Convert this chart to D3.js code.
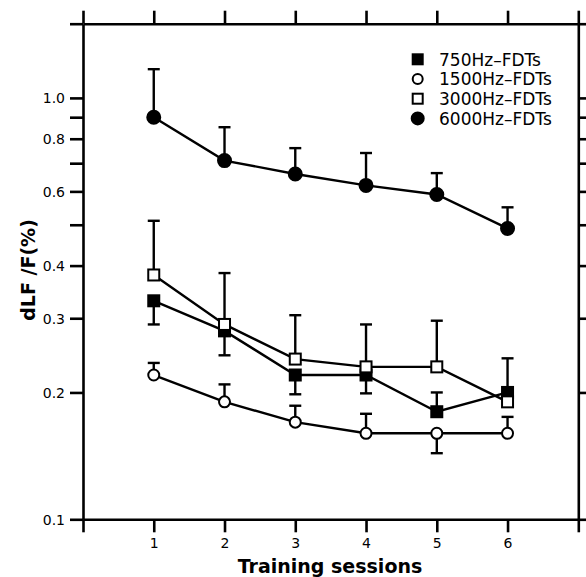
<!DOCTYPE html>
<html>
<head>
<meta charset="utf-8">
<script src="https://cdn.jsdelivr.net/npm/d3@7"></script>
<style>
  body { margin: 0; background: #fff; }
  text { font-family: "DejaVu Sans", sans-serif; fill: #000; }
</style>
</head>
<body>
<svg width="586" height="577"></svg>
<script>
// sessions on the x axis
var sessions = [1, 2, 3, 4, 5, 6];
var seriesNames = ["750Hz\u2013FDTs", "1500Hz\u2013FDTs", "3000Hz\u2013FDTs", "6000Hz\u2013FDTs"];

// mean dLF/F (%) per session
var f750  = [0.33, 0.28, 0.22, 0.22, 0.18, 0.20];
var f1500 = [0.22, 0.19, 0.17, 0.16, 0.16, 0.16];
var f3000 = [0.38, 0.29, 0.24, 0.23, 0.23, 0.19];
var f6000 = [0.90, 0.71, 0.66, 0.62, 0.59, 0.49];

// end of the (one sided) error bar, null = none drawn
var e750  = [0.29, 0.245, 0.198, 0.199, 0.200, 0.241];
var e1500 = [0.235, 0.209, 0.186, 0.178, 0.1435, 0.175];
var e3000 = [0.511, 0.384, 0.305, 0.290, 0.296, null];
var e6000 = [1.17, 0.852, 0.760, 0.740, 0.663, 0.550];

var yTicks = [0.1, 0.2, 0.3, 0.4, 0.5, 0.6, 0.7, 0.8, 0.9, 1.0, 1.5];
var yLabels = [0.1, 0.2, 0.3, 0.4, 0.6, 0.8, 1.0];
var xTicks = [0, 1, 2, 3, 4, 5, 6, 7];

var svg = d3.select("svg");

var x = d3.scaleLinear().domain([0, 7]).range([83, 578.3]);
var y = d3.scaleLog().domain([0.1, 1.5]).range([519.3, 23.7]);

var series = [
  { name: seriesNames[0], vals: f750,  err: e750,  shape: "square", fill: "#000" },
  { name: seriesNames[1], vals: f1500, err: e1500, shape: "circle", fill: "#fff" },
  { name: seriesNames[2], vals: f3000, err: e3000, shape: "square", fill: "#fff" },
  { name: seriesNames[3], vals: f6000, err: e6000, shape: "circle", fill: "#000" }
];

function styleAxis(g) {
  g.attr("font-size", 14).attr("font-family", "DejaVu Sans, sans-serif");
  g.selectAll("path").attr("stroke", "#000").attr("stroke-width", 2.6);
  g.selectAll("line").attr("stroke", "#000").attr("stroke-width", 2.6);
}

// axes - ticks point outwards on all four sides
svg.append("g")
  .attr("transform", "translate(" + x(0) + ",0)")
  .call(d3.axisLeft(y).tickValues(yTicks).tickSize(13).tickSizeOuter(0)
    .tickFormat(function(d) { return yLabels.indexOf(d) >= 0 ? d3.format(".1f")(d) : ""; }))
  .call(styleAxis)
  .selectAll("text").attr("x", -18).attr("dy", "0.36em");

svg.append("g")
  .attr("transform", "translate(" + x(7) + ",0)")
  .call(d3.axisRight(y).tickValues(yTicks).tickSize(13).tickSizeOuter(0).tickFormat(""))
  .call(styleAxis);

svg.append("g")
  .attr("transform", "translate(0," + y(0.1) + ")")
  .call(d3.axisBottom(x).tickValues(xTicks).tickSize(13).tickSizeOuter(0)
    .tickFormat(function(d) { return d >= 1 && d <= 6 ? d : ""; }))
  .call(styleAxis)
  .selectAll("text").attr("y", 19);

svg.append("g")
  .attr("transform", "translate(0," + y(1.5) + ")")
  .call(d3.axisTop(x).tickValues(xTicks).tickSize(13).tickSizeOuter(0).tickFormat(""))
  .call(styleAxis);

// titles
svg.append("text")
  .attr("x", 330)
  .attr("y", 573)
  .attr("text-anchor", "middle")
  .style("font-size", "19px")
  .style("font-weight", "bold")
  .text("Training  sessions");

svg.append("text")
  .attr("transform", "translate(35,270) rotate(-90)")
  .attr("text-anchor", "middle")
  .style("font-size", "19px")
  .style("font-weight", "bold")
  .text("dLF /F(%)");

var line = d3.line()
  .x(function(d, i) { return x(sessions[i]); })
  .y(function(d) { return y(d); });

function drawMarker(g, s, cx, cy, size) {
  if (s.shape == "square") {
    g.append("rect")
      .attr("x", cx - size).attr("y", cy - size)
      .attr("width", size * 2).attr("height", size * 2)
      .attr("fill", s.fill).attr("stroke", "#000").attr("stroke-width", 2);
  } else {
    g.append("circle")
      .attr("cx", cx).attr("cy", cy).attr("r", s.fill == "#000" ? size + 1 : size)
      .attr("fill", s.fill).attr("stroke", "#000").attr("stroke-width", 2);
  }
}

var plot = svg.append("g");

// error bars first, then lines, then markers on top
series.forEach(function(s) {
  s.err.forEach(function(e, i) {
    if (e == null) return;
    plot.append("line")
      .attr("x1", x(sessions[i])).attr("x2", x(sessions[i]))
      .attr("y1", y(s.vals[i])).attr("y2", y(e))
      .attr("stroke", "#000").attr("stroke-width", 2.4);
    plot.append("line")
      .attr("x1", x(sessions[i]) - 6).attr("x2", x(sessions[i]) + 6)
      .attr("y1", y(e)).attr("y2", y(e))
      .attr("stroke", "#000").attr("stroke-width", 2.4);
  });
});

series.forEach(function(s) {
  plot.append("path")
    .datum(s.vals)
    .attr("d", line)
    .attr("fill", "none")
    .attr("stroke", "#000")
    .attr("stroke-width", 2.4);
});

series.forEach(function(s) {
  s.vals.forEach(function(v, i) {
    drawMarker(plot, s, x(sessions[i]), y(v), 5.5);
  });
});

// legend
var legend = svg.append("g");
series.forEach(function(s, i) {
  var ly = 59.3 + i * 19.7;
  drawMarker(legend, s, 417.7, ly, 5);
  legend.append("text")
    .attr("x", 439)
    .attr("y", ly + 6.3)
    .style("font-size", "17px")
    .text(s.name);
});
</script>
</body>
</html>
